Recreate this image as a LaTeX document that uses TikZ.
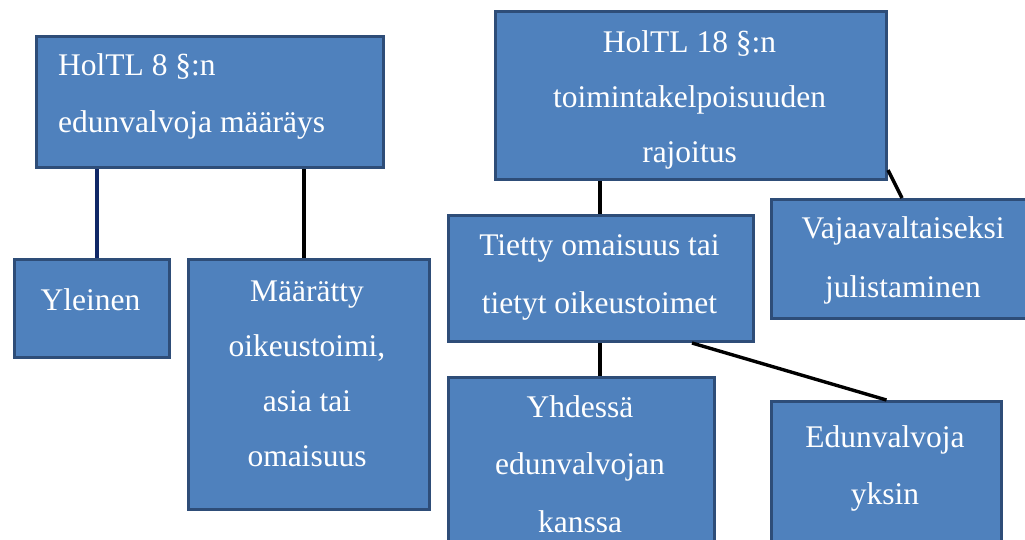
\documentclass[tikz,border=0pt]{standalone}
\usepackage{fontspec}
\setmainfont{Liberation Serif}
\usetikzlibrary{positioning}
\definecolor{boxfill}{HTML}{4F81BD}
\definecolor{boxline}{HTML}{2E4D78}
\definecolor{navyline}{HTML}{0F2766}
\tikzset{
  box/.style={draw=boxline, fill=boxfill, line width=3pt, rectangle, anchor=north west, inner sep=0pt},
  txt/.style={text=white, inner sep=0pt},
  conn/.style={draw=black, line width=3.4pt},
}
\newcommand{\fs}[1]{\fontsize{31.5}{#1}\selectfont}
\begin{document}
\begin{tikzpicture}[x=1pt,y=-1pt]
\useasboundingbox (0,0) rectangle (1025,539);
\clip (0,0) rectangle (1025,539);
% boxes
\node[box, minimum width=347pt, minimum height=131pt] (A) at (35,35) {};
\node[box, minimum width=391pt, minimum height=168pt] (B) at (494,10) {};
\node[box, minimum width=155pt, minimum height=98pt] (yl) at (13,258) {};
\node[box, minimum width=241pt, minimum height=250pt] (ma) at (187,258) {};
\node[box, minimum width=305pt, minimum height=126pt] (ti) at (447,214) {};
\node[box, minimum width=266pt, minimum height=119pt] (vj) at (770,198) {};
\node[box, minimum width=266pt, minimum height=190pt] (yh) at (447,376) {};
\node[box, minimum width=230pt, minimum height=170pt] (ed) at (770,400) {};
% texts
\node[txt, anchor=west, align=left, font=\fs{57}] (At) at (58,96.2) {HolTL 8 §:n\\edunvalvoja määräys};
\node[txt, align=center, font=\fs{55}] (Bt) at (689.5,99.7) {HolTL 18 §:n\\toimintakelpoisuuden\\rajoitus};
\node[txt, align=center, font=\fs{55}] (ylt) at (90.5,299.4) {Yleinen};
\node[txt, align=center, font=\fs{55}] (mat) at (307,374.3) {Määrätty\\oikeustoimi,\\asia tai\\omaisuus};
\node[txt, align=center, font=\fs{58}] (tit) at (599.5,277.7) {Tietty omaisuus tai\\tietyt oikeustoimet};
\node[txt, align=center, font=\fs{59}] (vjt) at (903,260.2) {Vajaavaltaiseksi\\julistaminen};
\node[txt, align=center, font=\fs{57.5}] (yht) at (580,464) {Yhdessä\\edunvalvojan\\kanssa};
\node[txt, align=center, font=\fs{57}] (edt) at (885,468.2) {Edunvalvoja\\yksin};
% connectors
\coordinate (xa) at (97,0);
\coordinate (xb) at (304,0);
\coordinate (xc) at (600,0);
\draw[conn, draw=navyline] (A.south -| xa) -- (yl.north -| xa);
\draw[conn] (A.south -| xb) -- (ma.north -| xb);
\draw[conn] (B.south -| xc) -- (ti.north -| xc);
\draw[conn] ([yshift=11pt]B.south east) -- ([xshift=132pt]vj.north west);
\draw[conn] (ti.south -| xc) -- (yh.north -| xc);
\draw[conn] ([xshift=245pt]ti.south west) -- (ed.north);
\end{tikzpicture}
\end{document}
